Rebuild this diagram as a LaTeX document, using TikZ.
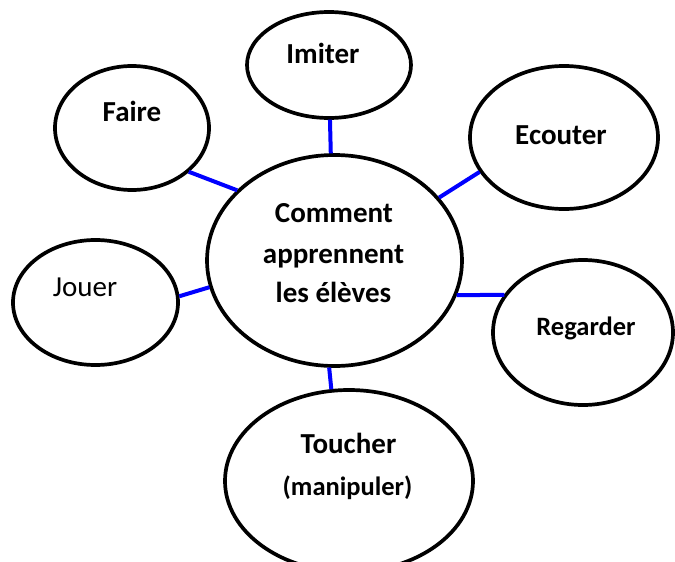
\documentclass[tikz,border=0pt]{standalone}
\usepackage{fontspec}
\setmainfont{Carlito}
\usetikzlibrary{shapes.geometric}
\begin{document}
\begin{tikzpicture}[x=1pt,y=-1pt,
  bubble/.style={ellipse, draw=black, line width=3.7pt, inner sep=0pt, outer sep=0pt},
  link/.style={draw=blue, line width=4pt, shorten <=1.6pt, shorten >=1.6pt},
  lbl/.style={anchor=base, inner sep=0pt, font=\bfseries\fontsize{29}{35}\selectfont},
  lblsmall/.style={anchor=base, inner sep=0pt, font=\bfseries\fontsize{26.5}{32}\selectfont},
  lblreg/.style={anchor=base, inner sep=0pt, font=\fontsize{29}{35}\selectfont}]
\useasboundingbox (0,0) rectangle (675,562);
% bubbles
\node[bubble, minimum width=255pt, minimum height=211pt] (centre) at (334.5,260.5) {};
\node[bubble, minimum width=164pt, minimum height=106pt] (imiter) at (329,65) {};
\node[bubble, minimum width=154pt, minimum height=124pt] (faire) at (132,128) {};
\node[bubble, minimum width=188pt, minimum height=143pt] (ecouter) at (564,137.5) {};
\node[bubble, minimum width=165pt, minimum height=125pt] (jouer) at (95.5,302.5) {};
\node[bubble, minimum width=180pt, minimum height=145pt] (regarder) at (583,332.5) {};
\node[bubble, minimum width=248pt, minimum height=182pt] (toucher) at (349,481) {};
% labels
\node[lbl] (tc1) at (334,222) {Comment};
\node[lbl] (tc2) at (333.5,263) {apprennent};
\node[lbl] (tc3) at (333.5,302) {les élèves};
\node[lbl] (timiter) at (323,63) {Imiter};
\node[lbl] (tfaire) at (132,121) {Faire};
\node[lbl] (tecouter) at (561,144) {Ecouter};
\node[lblreg] (tjouer) at (85,296) {Jouer};
\node[lblsmall] (tregarder) at (586,335) {Regarder};
\node[lbl] (ttoucher) at (348.5,453) {Toucher};
\node[lblsmall] (tmanip) at (347.5,495) {(manipuler)};
% links
\draw[link] (faire.-38.7) -- (centre.144.9);
\draw[link] (imiter.-89.5) -- (centre.92.4);
\draw[link] (ecouter.202.5) -- (centre.31);
\draw[link] (jouer.4.5) -- (centre.192.6);
\draw[link] (centre.-16.47) -- (regarder.154.9);
\draw[link] (centre.267.6) -- (toucher.101.8);
\end{tikzpicture}
\end{document}
